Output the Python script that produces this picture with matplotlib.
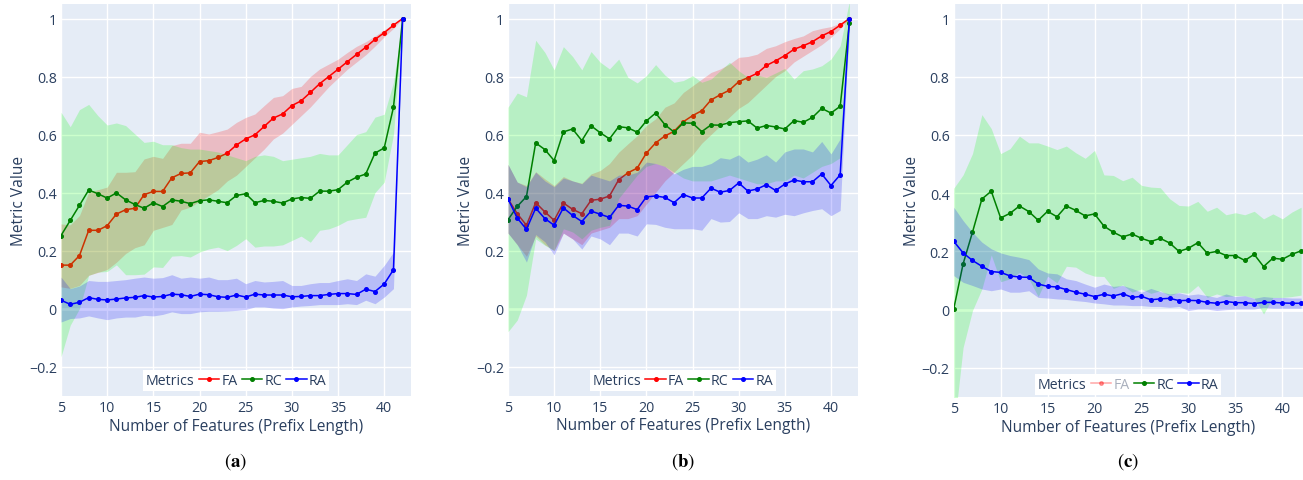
import matplotlib
matplotlib.use("Agg")
import matplotlib.pyplot as plt
from matplotlib.lines import Line2D
from matplotlib.ticker import FixedLocator

plt.rcParams['font.family'] = ['Open Sans', 'DejaVu Sans']
plt.rcParams['mathtext.fontset'] = 'stix'

x = list(range(5, 43))

# ---------------- panel (a) ----------------
fa_a = [0.15,0.15,0.183,0.27,0.27,0.286,0.326,0.341,0.346,0.393,
        0.404,0.404,0.451,0.466,0.468,0.507,0.51,0.521,0.536,0.564,
        0.585,0.599,0.628,0.657,0.671,0.70,0.716,0.745,0.775,0.80,
        0.825,0.851,0.876,0.901,0.928,0.951,0.977,1.0]
fa_a_hi = [0.292,0.289,0.321,0.401,0.41,0.419,0.47,0.47,0.472,0.516,
           0.525,0.518,0.562,0.57,0.57,0.608,0.602,0.61,0.619,0.642,
           0.659,0.671,0.70,0.728,0.734,0.759,0.766,0.80,0.826,0.843,
           0.86,0.883,0.904,0.92,0.94,0.961,0.98,1.0]
fa_a_lo = [0.075,0.07,0.08,0.115,0.125,0.135,0.16,0.19,0.21,0.22,
           0.27,0.28,0.29,0.34,0.35,0.37,0.39,0.41,0.44,0.46,
           0.49,0.52,0.55,0.585,0.605,0.635,0.665,0.695,0.73,0.765,
           0.795,0.825,0.85,0.875,0.905,0.937,0.966,1.0]
rc_a = [0.252,0.304,0.356,0.409,0.396,0.381,0.399,0.375,0.359,0.346,
        0.365,0.352,0.375,0.37,0.362,0.372,0.375,0.37,0.365,0.39,
        0.396,0.365,0.373,0.37,0.364,0.378,0.383,0.38,0.405,0.405,
        0.41,0.436,0.453,0.464,0.536,0.554,0.694,1.0]
rc_a_hi = [0.677,0.627,0.686,0.704,0.665,0.633,0.64,0.631,0.602,0.573,
           0.577,0.565,0.565,0.555,0.55,0.55,0.545,0.54,0.53,0.52,
           0.51,0.525,0.53,0.525,0.51,0.515,0.52,0.525,0.535,0.53,
           0.53,0.565,0.60,0.61,0.66,0.67,0.78,1.0]
rc_a_lo = [-0.166,-0.057,0.0,0.115,0.126,0.128,0.151,0.117,0.117,0.119,
           0.144,0.142,0.181,0.183,0.178,0.195,0.206,0.212,0.2,0.218,
           0.241,0.212,0.216,0.216,0.22,0.235,0.25,0.229,0.27,0.275,
           0.287,0.304,0.31,0.315,0.40,0.436,0.60,1.0]
ra_a = [0.029,0.015,0.022,0.038,0.032,0.03,0.033,0.037,0.039,0.045,
        0.04,0.042,0.05,0.048,0.042,0.05,0.048,0.041,0.039,0.047,
        0.04,0.05,0.047,0.047,0.047,0.041,0.042,0.045,0.045,0.049,
        0.052,0.052,0.049,0.067,0.059,0.085,0.134,1.0]
ra_a_hi = [0.109,0.069,0.078,0.097,0.094,0.094,0.097,0.10,0.105,0.109,
           0.105,0.107,0.117,0.105,0.109,0.105,0.109,0.10,0.10,0.105,
           0.086,0.097,0.092,0.094,0.097,0.08,0.08,0.086,0.09,0.09,
           0.097,0.103,0.097,0.12,0.112,0.149,0.195,1.0]
ra_a_lo = [-0.046,-0.034,-0.032,-0.025,-0.032,-0.038,-0.032,-0.029,-0.029,-0.023,
           -0.025,-0.02,-0.011,-0.017,-0.017,-0.011,-0.009,-0.009,-0.008,-0.006,
           -0.003,0.006,0.006,0.002,0.0,0.006,0.009,0.011,0.014,0.014,
           0.014,0.017,0.014,0.029,0.017,0.04,0.069,1.0]

# ---------------- panel (b) ----------------
fa_b = [0.378,0.327,0.287,0.365,0.333,0.304,0.364,0.342,0.327,0.373,
        0.377,0.388,0.444,0.468,0.484,0.536,0.571,0.595,0.611,0.644,
        0.665,0.682,0.719,0.737,0.753,0.782,0.796,0.811,0.838,0.854,
        0.872,0.894,0.906,0.92,0.94,0.955,0.977,1.0]
fa_b_hi = [0.497,0.436,0.424,0.472,0.447,0.424,0.455,0.44,0.432,0.464,
           0.476,0.50,0.539,0.568,0.596,0.631,0.654,0.694,0.709,0.745,
           0.768,0.791,0.814,0.826,0.843,0.866,0.869,0.877,0.897,0.906,
           0.92,0.931,0.94,0.958,0.966,0.972,0.984,1.0]
fa_b_lo = [0.26,0.22,0.18,0.25,0.22,0.20,0.26,0.24,0.22,0.26,
           0.27,0.28,0.31,0.31,0.32,0.36,0.40,0.44,0.47,0.50,
           0.53,0.57,0.60,0.63,0.66,0.69,0.71,0.74,0.77,0.80,
           0.82,0.85,0.87,0.89,0.91,0.935,0.965,1.0]
rc_b = [0.306,0.352,0.386,0.571,0.548,0.51,0.609,0.619,0.579,0.63,
        0.606,0.585,0.627,0.623,0.608,0.647,0.674,0.634,0.608,0.64,
        0.639,0.61,0.633,0.632,0.641,0.644,0.647,0.622,0.631,0.626,
        0.619,0.648,0.642,0.659,0.69,0.674,0.697,0.984]
rc_b_hi = [0.694,0.743,0.73,0.925,0.883,0.823,0.903,0.869,0.823,0.886,
           0.849,0.826,0.86,0.797,0.778,0.803,0.841,0.805,0.78,0.786,
           0.803,0.78,0.791,0.82,0.849,0.82,0.797,0.805,0.797,0.812,
           0.828,0.791,0.82,0.826,0.837,0.86,0.906,1.06]
rc_b_lo = [-0.08,-0.04,0.046,0.24,0.218,0.20,0.275,0.264,0.24,0.27,
           0.28,0.287,0.38,0.42,0.46,0.49,0.50,0.49,0.47,0.45,
           0.44,0.44,0.44,0.45,0.46,0.45,0.44,0.43,0.43,0.44,
           0.44,0.46,0.45,0.47,0.49,0.50,0.52,0.93]
ra_b = [0.378,0.312,0.273,0.346,0.31,0.287,0.347,0.321,0.30,0.336,
        0.325,0.314,0.356,0.353,0.341,0.385,0.388,0.383,0.365,0.393,
        0.381,0.381,0.415,0.401,0.407,0.433,0.405,0.412,0.427,0.407,
        0.429,0.443,0.437,0.437,0.464,0.424,0.461,1.0]
ra_b_hi = [0.497,0.436,0.42,0.47,0.44,0.42,0.45,0.44,0.43,0.46,
           0.45,0.44,0.46,0.46,0.47,0.505,0.50,0.49,0.464,0.48,
           0.49,0.49,0.50,0.52,0.515,0.53,0.505,0.515,0.53,0.505,
           0.54,0.55,0.55,0.54,0.576,0.533,0.585,1.0]
ra_b_lo = [0.26,0.22,0.16,0.255,0.23,0.185,0.26,0.24,0.205,0.25,
           0.24,0.22,0.26,0.26,0.25,0.292,0.29,0.28,0.275,0.275,
           0.275,0.27,0.31,0.298,0.30,0.33,0.31,0.31,0.32,0.315,
           0.325,0.32,0.33,0.338,0.344,0.32,0.338,1.0]

# ---------------- panel (c) ----------------
rc_c = [0.002,0.157,0.266,0.38,0.407,0.315,0.331,0.356,0.337,0.307,
        0.338,0.319,0.356,0.341,0.322,0.329,0.287,0.266,0.25,0.26,
        0.245,0.234,0.245,0.229,0.2,0.211,0.23,0.194,0.2,0.186,
        0.186,0.169,0.19,0.148,0.177,0.173,0.19,0.202]
rc_c_hi = [0.417,0.463,0.536,0.67,0.622,0.536,0.553,0.596,0.573,0.573,
           0.562,0.55,0.562,0.539,0.52,0.547,0.463,0.461,0.443,0.455,
           0.427,0.421,0.419,0.381,0.358,0.356,0.372,0.338,0.352,0.326,
           0.333,0.326,0.338,0.312,0.329,0.312,0.335,0.352]
rc_c_lo = [-0.42,-0.13,-0.003,0.071,0.188,0.096,0.106,0.128,0.106,0.045,
           0.115,0.092,0.149,0.146,0.126,0.115,0.114,0.073,0.085,0.06,
           0.071,0.056,0.065,0.048,0.06,0.056,0.083,0.042,0.054,0.045,
           0.048,0.048,0.04,-0.015,0.042,0.042,0.045,0.05]
ra_c = [0.235,0.195,0.169,0.149,0.131,0.128,0.116,0.112,0.111,0.088,
        0.08,0.078,0.069,0.06,0.053,0.045,0.053,0.047,0.055,0.042,
        0.046,0.034,0.037,0.039,0.031,0.032,0.031,0.025,0.022,0.028,
        0.024,0.024,0.021,0.025,0.025,0.023,0.022,0.022]
ra_c_hi = [0.352,0.306,0.266,0.232,0.209,0.195,0.186,0.18,0.172,0.14,
           0.126,0.123,0.106,0.10,0.088,0.077,0.088,0.08,0.083,0.073,
           0.06,0.073,0.062,0.054,0.058,0.05,0.054,0.048,0.042,0.054,
           0.045,0.048,0.039,0.045,0.042,0.042,0.04,0.04]
ra_c_lo = [0.117,0.094,0.083,0.071,0.065,0.071,0.06,0.06,0.065,0.042,
           0.04,0.037,0.035,0.031,0.028,0.023,0.02,0.016,0.016,0.014,
           0.014,0.011,0.011,0.008,0.011,-0.003,0.002,0.002,-0.003,0.0,
           0.002,0.002,0.002,0.008,0.005,0.005,0.005,0.005]

metric_names = ['FA', 'RC', 'RA']
legend_title = 'Metrics'
panel_labels = ['a', 'b', 'c']
x_label = 'Number of Features (Prefix Length)'
y_label = 'Metric Value'
x_ticks = [5, 10, 15, 20, 25, 30, 35, 40]
y_ticks = [-0.2, 0, 0.2, 0.4, 0.6, 0.8, 1]
y_tick_labels = ['\u22120.2', '0', '0.2', '0.4', '0.6', '0.8', '1']

line_colors = {'FA': 'red', 'RC': 'green', 'RA': 'blue'}
fill_colors = {'FA': (1, 0, 0, 0.2), 'RC': (0, 1, 0, 0.2), 'RA': (0, 0, 1, 0.2)}
TXT = '#2a3f5f'
BG = '#E5ECF6'

W, H = 1303, 481
fig = plt.figure(figsize=(W / 100, H / 100), dpi=100)

# axes boxes in pixels (left, top, right, bottom)
boxes = [(61, 5, 411, 396.7), (508, 5, 857.7, 396.5), (953.7, 5, 1303, 398)]
xlims = [(5, 42.9), (5, 42.9), (5, 42.2)]

panels = [
    {'FA': (fa_a, fa_a_lo, fa_a_hi), 'RC': (rc_a, rc_a_lo, rc_a_hi), 'RA': (ra_a, ra_a_lo, ra_a_hi)},
    {'FA': (fa_b, fa_b_lo, fa_b_hi), 'RC': (rc_b, rc_b_lo, rc_b_hi), 'RA': (ra_b, ra_b_lo, ra_b_hi)},
    {'RC': (rc_c, rc_c_lo, rc_c_hi), 'RA': (ra_c, ra_c_lo, ra_c_hi)},
]

for i, (box, data) in enumerate(zip(boxes, panels)):
    l, t, r, b = box
    ax = fig.add_axes([l / W, 1 - b / H, (r - l) / W, (b - t) / H])
    ax.set_facecolor(BG)
    for s in ax.spines.values():
        s.set_visible(False)
    ax.set_xlim(*xlims[i])
    ax.set_ylim(-0.3, 1.05)
    ax.xaxis.set_major_locator(FixedLocator(x_ticks))
    ax.set_yticks(y_ticks)
    ax.set_yticklabels(y_tick_labels)
    ax.grid(True, color='white', lw=1.0, zorder=0)
    ax.set_axisbelow(True)
    ax.axhline(0, color='white', lw=2.0, zorder=0.5)
    ax.tick_params(length=0, labelsize=10.2, labelcolor=TXT, pad=3)
    for name in metric_names:
        if name not in data:
            continue
        y, lo, hi = data[name]
        ax.fill_between(x, lo, hi, color=fill_colors[name], lw=0, zorder=1)
        ax.plot(x, y, color=line_colors[name], lw=1.1, marker='o', ms=2.6, zorder=1)
    ax.set_xlabel(x_label, fontsize=11.2, color=TXT, labelpad=2)
    ax.set_ylabel(y_label, fontsize=11.2, color=TXT, labelpad=1)

    # legend with inline title
    handles, labels = [], []
    for name in metric_names:
        hidden = name not in data
        alpha = 0.35 if hidden else 1.0
        handles.append(Line2D([], [], color=line_colors[name], lw=1.1, marker='o', ms=2.6, alpha=alpha))
        labels.append(name)
    leg = ax.legend(handles, labels, title=legend_title, loc='lower center',
                    bbox_to_anchor=(0.5, 0.012 if i < 2 else 0.005),
                    ncol=3, frameon=True, fancybox=False, fontsize=10.2, title_fontsize=10.2,
                    numpoints=1, handlelength=1.45, handletextpad=0.15, columnspacing=0.2,
                    borderpad=0.2, borderaxespad=0.0, framealpha=1.0)
    frame = leg.get_frame()
    frame.set_facecolor('white')
    frame.set_edgecolor('white')
    frame.set_linewidth(0)
    leg.set_zorder(5)
    leg.get_title().set_color(TXT)
    # move the title to the left of the entries
    vbox = leg._legend_box
    title_box, handle_box = vbox._children[0], vbox._children[1]
    vbox._children = [handle_box]
    handle_box._children.insert(0, title_box)
    handle_box.sep = 3
    for j, txt in enumerate(leg.get_texts()):
        txt.set_color(TXT if metric_names[j] in data else '#a9b0bd')

    cx = (l + r) / 2 / W
    fig.text(cx, 1 - 462 / H, '(' + r'$\mathbf{' + panel_labels[i] + '}$' + ')',
             fontfamily='STIXGeneral', fontsize=13.5, ha='center', va='center', color='black')

fig.savefig('out.png', dpi=100, facecolor='white')
